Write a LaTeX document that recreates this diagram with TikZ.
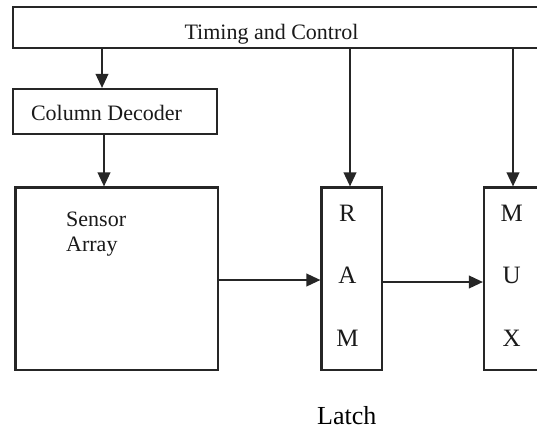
\documentclass[tikz,border=0pt]{standalone}
\usepackage{fontspec}
\setmainfont{Liberation Serif}
\usetikzlibrary{arrows.meta}
\definecolor{linec}{HTML}{262626}
\definecolor{txtc}{HTML}{1A1A1A}
\begin{document}
\begin{tikzpicture}[x=1pt,y=-1pt,
  box/.style={draw=linec, line width=2.1pt, inner sep=0pt, fill=white},
  arr/.style={draw=linec, line width=2.1pt, -{Triangle[length=14pt,width=12.5pt]}},
  lbl/.style={text=txtc, inner sep=0pt, anchor=base, font=\fontsize{22}{25.5}\selectfont},
  letter/.style={text=txtc, inner sep=0pt, anchor=base, font=\fontsize{25}{28}\selectfont}]
\useasboundingbox (0,0) rectangle (537,429);
\clip (0,0) rectangle (537,429);
\fill[white] (0,0) rectangle (537,429);
% boxes
\node[box, minimum width=560pt, minimum height=41pt] (tc) at (293,27.8) {};
\node[box, minimum width=204pt, minimum height=45pt] (cd) at (115,111.5) {};
\node[box, minimum width=202.5pt, minimum height=182.5pt] (sa) at (116.75,278.75) {};
\node[box, minimum width=60.5pt, minimum height=182.5pt] (ram) at (351.75,278.75) {};
\node[box, minimum width=61pt, minimum height=182.5pt] (mux) at (514.5,278.75) {};
% texts
\node[lbl] (tctext) at (271.5,39.3) {Timing and Control};
\node[lbl] (cdtext) at (106.5,120.7) {Column Decoder};
\node[lbl, anchor=base west, align=left] (satext) at (66,251.7) {Sensor\\Array};
\node[letter] (r1) at (347.5,221.7) {R};
\node[letter] (r2) at (347.5,283.3) {A};
\node[letter] (r3) at (347.5,346.7) {M};
\node[letter] (m1) at (511.7,221.7) {M};
\node[letter] (m2) at (511.7,283.3) {U};
\node[letter] (m3) at (511.7,346.7) {X};
\node[text=black, inner sep=0pt, anchor=base, font=\fontsize{26}{30}\selectfont] (latch) at (346.7,424.3) {Latch};
% connectors
\coordinate (a1) at (102,0);
\coordinate (a2) at (104,0);
\coordinate (a3) at (350,0);
\coordinate (a4) at (513,0);
\coordinate (h1) at (0,280);
\coordinate (h2) at (0,282);
\draw[arr] (tc.south -| a1) -- (cd.north -| a1);
\draw[arr] (cd.south -| a2) -- (sa.north -| a2);
\draw[arr] (tc.south -| a3) -- (ram.north -| a3);
\draw[arr] (tc.south -| a4) -- (mux.north -| a4);
\draw[arr] (sa.east |- h1) -- (ram.west |- h1);
\draw[arr] (ram.east |- h2) -- (mux.west |- h2);
\end{tikzpicture}
\end{document}
